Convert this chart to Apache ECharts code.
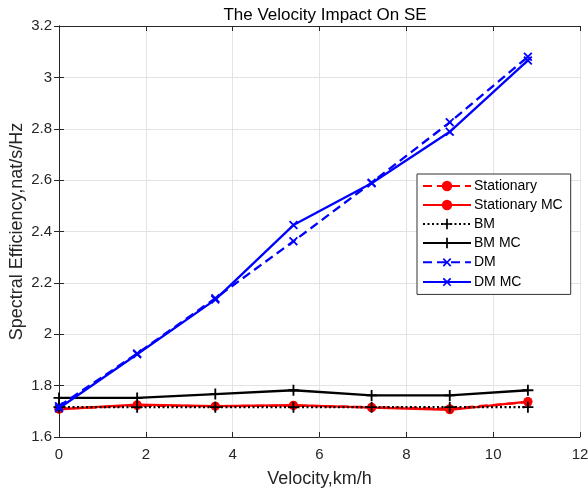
<!DOCTYPE html>
<html><head><meta charset="utf-8">
<script src="https://cdn.jsdelivr.net/npm/echarts@6/dist/echarts.min.js"></script>
<style>html,body{margin:0;padding:0;background:#fff}#c{width:588px;height:491px}</style>
</head><body><div id="c"></div>
<script>
const velocity = [0, 1.8, 3.6, 5.4, 7.2, 9, 10.8];
const stationary   = [1.710, 1.722, 1.720, 1.722, 1.716, 1.710, 1.736];
const stationaryMC = [1.708, 1.726, 1.720, 1.724, 1.714, 1.706, 1.738];
const bm   = [1.716, 1.716, 1.716, 1.716, 1.716, 1.716, 1.716];
const bmMC = [1.752, 1.752, 1.767, 1.782, 1.762, 1.762, 1.782];
const dm   = [1.720, 1.925, 2.140, 2.362, 2.590, 2.825, 3.080];
const dmMC = [1.712, 1.922, 2.135, 2.425, 2.588, 2.788, 3.066];
const xTicks = [0, 2, 4, 6, 8, 10, 12];
const yTicks = [1.6, 1.8, 2, 2.2, 2.4, 2.6, 2.8, 3, 3.2];

const FONT = 'Liberation Sans, Arial, sans-serif';
const TXT = '#262626';
const PLUS = 'path://M5,0H7V5H12V7H7V12H5V7H0V5H5Z';

function pts(ys){ return velocity.map((x,i)=>[x, ys[i]]); }
function mk(name, ys, color, type, symbol, size, rot){
  return {
    name, type:'line', data: pts(ys), xAxisIndex:0, yAxisIndex:0,
    symbol, symbolSize:size, symbolRotate: rot||0, showSymbol:true,
    lineStyle:{color, width: 2.3, type},
    itemStyle:{color, borderWidth:0},
    emphasis:{disabled:true}, animation:false
  };
}
const series = [
  mk('Stationary', stationary, '#ff0000', [9,5], 'circle', 9),
  mk('Stationary MC', stationaryMC, '#ff0000', 'solid', 'circle', 9),
  mk('BM', bm, '#000000', [2,2.5], PLUS, 11),
  mk('BM MC', bmMC, '#000000', 'solid', PLUS, 11),
  mk('DM', dm, '#0000ff', [9,5], PLUS, 11, 45),
  mk('DM MC', dmMC, '#0000ff', 'solid', PLUS, 11, 45)
];

const axisCommon = {
  axisLine:{show:true, lineStyle:{color:TXT, width:1}},
  axisTick:{show:true, inside:true, length:5, lineStyle:{color:TXT}},
};
const chart = echarts.init(document.getElementById('c'), null, {renderer:'canvas'});
chart.setOption({
  backgroundColor:'#fff',
  animation:false,
  title:{text:'The Velocity Impact On SE', left:320, top:2, textAlign:'center',
    textStyle:{fontFamily:FONT, fontSize:17, fontWeight:'normal', color:'#000'}},
  grid:{left:59, right:8, top:26, bottom:54, containLabel:false, outerBoundsMode:'none'},
  legend:{
    orient:'vertical', left:417, top:174, width:157,
    backgroundColor:'#fff', borderColor:'#333', borderWidth:1,
    padding:[5,8,5,5], itemGap:5, itemWidth:48, itemHeight:13,
    textStyle:{fontFamily:FONT, fontSize:14, color:'#000', padding:[0,0,0,-2]},
    data: series.map(s=>s.name)
  },
  xAxis:[
    Object.assign({type:'value', min:xTicks[0], max:xTicks[xTicks.length-1], interval:2,
      name:'Velocity,km/h', nameLocation:'middle', nameGap:33,
      nameTextStyle:{fontFamily:FONT, fontSize:18, color:TXT},
      axisLabel:{fontFamily:FONT, fontSize:15, color:TXT, margin:10},
      splitLine:{show:true, lineStyle:{color:'#e3e3e3', width:1}}}, axisCommon),
    Object.assign({type:'value', position:'top', min:0, max:12, interval:2,
      axisLabel:{show:false}, splitLine:{show:false}}, axisCommon)
  ],
  yAxis:[
    Object.assign({type:'value', min:yTicks[0], max:yTicks[yTicks.length-1], interval:0.2,
      name:'Spectral Efficiency,nat/s/Hz', nameLocation:'middle', nameGap:33, nameMoveOverlap:false,
      nameTextStyle:{fontFamily:FONT, fontSize:18, color:TXT},
      axisLabel:{fontFamily:FONT, fontSize:15, color:TXT, margin:7,
        formatter: v => String(Math.round(v*10)/10)},
      splitLine:{show:true, lineStyle:{color:'#e3e3e3', width:1}}}, axisCommon),
    Object.assign({type:'value', position:'right', min:1.6, max:3.2, interval:0.2,
      axisLabel:{show:false}, splitLine:{show:false}}, axisCommon)
  ],
  series
});
</script></body></html>
